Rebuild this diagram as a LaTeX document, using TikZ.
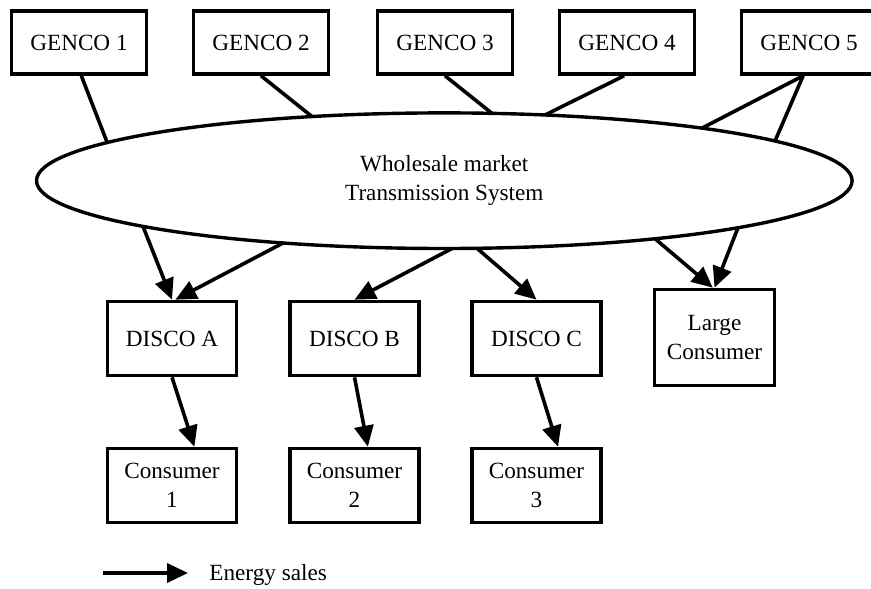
\documentclass[tikz,border=0pt]{standalone}
\usepackage{fontspec}
\setmainfont{Liberation Serif}
\usetikzlibrary{arrows.meta,shapes.geometric,calc}
\begin{document}
\begin{tikzpicture}[x=0.5pt,y=-0.5pt,
  lbl/.style={font=\fontsize{11.6}{14.25}\selectfont, align=center, inner sep=0pt},
  box/.style={lbl, draw, fill=white, line width=1.8pt},
  genbox/.style={box, minimum width=67.4pt, minimum height=31.5pt},
  discobox/.style={box, minimum width=64.5pt, minimum height=37pt},
  market/.style={lbl, draw, ellipse, line width=1.7pt, minimum width=407.8pt, minimum height=67.8pt},
  link/.style={line width=1.8pt},
  sale/.style={link, -{Triangle[length=10.5pt,width=9.5pt]}},
]
\useasboundingbox (0,0) rectangle (871,588);

% generating companies
\node[genbox] (g1) at (79,42.5) {GENCO 1};
\node[genbox] (g2) at (261,42.5) {GENCO 2};
\node[genbox] (g3) at (445,42.5) {GENCO 3};
\node[genbox] (g4) at (627,42.5) {GENCO 4};
\node[genbox] (g5) at (809,42.5) {GENCO 5};

% market
\node[market] (wm) at (444.3,180.7) {Wholesale market\\Transmission System};

% distribution companies and large consumer
\node[discobox] (da) at (172,338.5) {DISCO A};
\node[discobox] (db) at (354.5,338.5) {DISCO B};
\node[discobox] (dc) at (536.5,338.5) {DISCO C};
\node[box, minimum width=60pt, minimum height=48pt] (lc) at (714.5,337.5) {Large\\Consumer};

% consumers
\node[discobox] (c1) at (172,485.5) {Consumer\\1};
\node[discobox] (c2) at (354.5,485.5) {Consumer\\2};
\node[discobox] (c3) at (536.5,485.5) {Consumer\\3};

% generators feeding the market (end points lie on the ellipse outline)
\draw[link] (g1.274) -- ($(wm.center)+(-337.3,-38.7)$);
\draw[link] (g2.south) -- ($(wm.center)+(-132.3,-64.1)$);
\draw[link] (g3.south) -- ($(wm.center)+(47.7,-67.3)$);
\draw[link] (g4.265) -- ($(wm.center)+(100.7,-65.7)$);
\draw[link] (g5.260) -- ($(wm.center)+(257.7,-52.6)$);
\draw[link] (g5.260) -- ($(wm.center)+(330.7,-39.7)$);

% energy sales
\draw[sale] ($(wm.center)+(-301.3,45.7)$) -- (da.north);
\draw[sale] ($(wm.center)+(-161.3,62.3)$) -- (da.85);
\draw[sale] ($(wm.center)+(7.7,67.8)$) -- (db.north);
\draw[sale] ($(wm.center)+(32.7,67.6)$) -- (dc.north);
\draw[sale] ($(wm.center)+(210.7,58.0)$) -- (lc.92);
\draw[sale] ($(wm.center)+(293.7,47.0)$) -- (lc.north);
\draw[sale] (da.south) -- (c1.60);
\draw[sale] (db.south) -- (c2.71);
\draw[sale] (dc.south) -- (c3.61);

% legend
\coordinate (keyA) at (103,573);
\coordinate (keyB) at (188,573);
\draw[sale] (keyA) -- (keyB);
\node[lbl, anchor=base west] (key) at (209,580) {Energy sales};
\end{tikzpicture}
\end{document}
